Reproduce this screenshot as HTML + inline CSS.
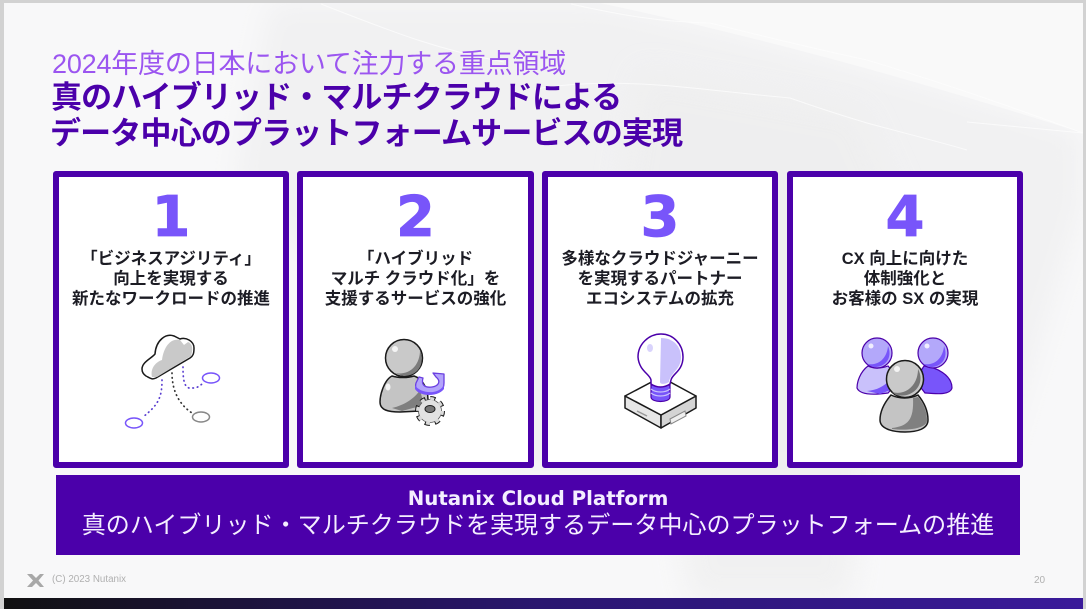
<!DOCTYPE html>
<html lang="ja">
<head>
<meta charset="utf-8">
<style>
html,body{margin:0;padding:0;background:#fff;}
#s{position:relative;width:1089px;height:611px;overflow:hidden;background:#fff;font-family:"Liberation Sans","Noto Sans CJK JP",sans-serif;}
.a{position:absolute;white-space:nowrap;}
.card{position:absolute;top:171px;height:285px;width:224px;border:6px solid #4b00aa;border-radius:3px;background:#fff;}
.num{position:absolute;left:0;right:0;top:6px;text-align:center;font:bold 56px/70px "DejaVu Sans","Liberation Sans",sans-serif;color:#7855fa;-webkit-text-stroke:.8px #7855fa;}
.txt{position:absolute;left:-6px;right:-6px;top:72px;text-align:center;font-size:16.500px;line-height:20px;font-weight:700;color:#1c1c24;font-family:"Liberation Sans","Noto Sans CJK JP",sans-serif;white-space:nowrap;}
</style>
</head>
<body>
<div id="s">
<svg class="a" style="left:0;top:0" width="1089" height="611">
<defs>
<linearGradient id="bar" x1="0" x2="1" y1="0" y2="0"><stop offset="0" stop-color="#111"/><stop offset=".5" stop-color="#2a1670"/><stop offset="1" stop-color="#3a1a9a"/></linearGradient>
<filter id="b" x="-20%" y="-20%" width="140%" height="140%"><feGaussianBlur stdDeviation="14"/></filter>
<clipPath id="pg"><rect x="4" y="3" width="1079" height="595"/></clipPath>
</defs>
<rect x="0" y="0" width="1089" height="611" fill="#fff"/>
<rect x="0" y="0" width="1086" height="609" fill="#d2d2d2"/>
<rect x="4" y="3" width="1079" height="595" fill="#f8f8f9"/>
<g clip-path="url(#pg)">
<path d="M270 3 L600 3 C750 35 900 75 1083 133 L1083 200 L1000 470 L500 470 L235 180Z" fill="#f1f1f2" filter="url(#b)"/>
<path d="M640 70 L860 110 L900 200 L850 600 L690 600 L620 200Z" fill="#eeeeee" filter="url(#b)" opacity=".7"/>
<path d="M600 3 L1083 3 L1083 133 C900 75 750 35 600 3Z" fill="#f9f9f9"/>
<path d="M321 4 C400 35 440 50 504 62 M571 4 C620 15 660 22 710 23 C770 38 820 50 867 60 C950 85 1020 110 1083 133 M535 89 C620 75 700 90 790 98 C810 105 840 115 867 123 C900 132 940 142 967 150 M967 122 C1010 126 1050 130 1083 133" stroke="#fcfcfc" stroke-width="1" fill="none" opacity=".8"/>
</g>
<rect x="4" y="598" width="1079" height="11" fill="url(#bar)"/>
<path d="M27 574 L32 574 L36 578 L40 574 L44 574 L38.500 580.500 L44 587 L40 587 L36 583 L32 587 L27 587 L33 580.500Z" fill="#a8a8a8"/>
</svg>

<div class="a" style="left:52px;top:48px;font-size:27px;line-height:32px;color:#9b55f0;letter-spacing:-.2px">2024年度の日本において注力する重点領域</div>
<div class="a" style="left:51px;top:80px;font-size:31px;line-height:36px;font-weight:700;color:#4b00aa;letter-spacing:-.9px">真のハイブリッド・マルチクラウドによる</div>
<div class="a" style="left:50px;top:116px;font-size:31px;line-height:36px;font-weight:700;color:#4b00aa;letter-spacing:-.85px">データ中心のプラットフォームサービスの実現</div>

<div class="card" style="left:53px"><div class="num">1</div><div class="txt">「ビジネスアジリティ」<br>向上を実現する<br>新たなワークロードの推進</div></div>
<div class="card" style="left:297px;width:225px"><div class="num">2</div><div class="txt">「ハイブリッド<br>マルチ クラウド化」を<br>支援するサービスの強化</div></div>
<div class="card" style="left:542px"><div class="num">3</div><div class="txt">多様なクラウドジャーニー<br>を実現するパートナー<br>エコシステムの拡充</div></div>
<div class="card" style="left:787px"><div class="num">4</div><div class="txt">CX 向上に向けた<br>体制強化と<br>お客様の SX の実現</div></div>

<svg class="a" style="left:0;top:0" width="1089" height="611">
<!-- cloud icon -->
<g fill="none" stroke-linecap="round">
<path d="M162 380 C162 398 158 405 143 417" stroke="#5a3fd0" stroke-width="1.700" stroke-dasharray=".5 4"/>
<path d="M172 373 C172 392 180 405 192 413" stroke="#333" stroke-width="1.700" stroke-dasharray=".5 4"/>
<path d="M183 367 C183 380 184 390 193 388 C197 388 200 386 203 383" stroke="#5a3fd0" stroke-width="1.700" stroke-dasharray=".5 4"/>
</g>
<ellipse cx="134" cy="423" rx="8.500" ry="5" fill="#fff" stroke="#7855fa" stroke-width="1.500"/>
<ellipse cx="201" cy="417" rx="8.500" ry="5" fill="#fff" stroke="#888" stroke-width="1.500"/>
<ellipse cx="211" cy="378" rx="8.500" ry="5" fill="#fff" stroke="#7855fa" stroke-width="1.500"/>
<path d="M142 369 C142 362 152 358 155 354 C156 340 166 333 174 336 L180 339 C186 337 194 341 194 348 C194 354 193 356 190 358 L156 378 C152 380 150 378 146 376 C143 374 142 372 142 369Z" fill="#fff" stroke="#1a1a1a" stroke-width="1.500"/>
<path d="M152 377 C150 368 156 362 162 360 C164 345 172 338 180 340 L184 345 L188 342 C193 344 193 350 191 356 L157 377Z" fill="#c9c9c9"/>

<!-- person gear icon -->
<circle cx="404" cy="358" r="18.500" fill="#c9c9c9" stroke="#1a1a1a" stroke-width="1.500"/>
<path d="M394 373 C410 376 420 365 420 350 C424 360 422 375 404 376Z" fill="#7c7c7c"/>
<circle cx="395" cy="349" r="3" fill="#fff" opacity=".8"/>
<path d="M392 376 C384 380 380 395 380 402 C380 410 388 412 400 412 L420 411 L428 400 C428 385 420 378 414 376 C408 378 398 378 392 376Z" fill="#c4c4c4" stroke="#1a1a1a" stroke-width="1.500"/>
<path d="M392 408 C405 405 415 398 420 390 L424 405 L402 411Z" fill="#7f7f7f"/>
<ellipse cx="388" cy="387" rx="2.500" ry="3.500" fill="#fff" opacity=".8"/>
<path d="M416 383 C414 391 420 394 430 394 C438 394 444 391 444 383 L444 374 L433 373 L436 377 C441 381 439 386 432 387 C425 388 421 385 423 378 L419 377Z" fill="#b3a4fb" stroke="#6a3fe0" stroke-width="1.300" stroke-linejoin="round"/>
<path d="M415 385 C419 393 438 396 444 385 L444 389 C438 397 420 397 415 389Z" fill="#7855fa"/>
<circle cx="430" cy="411" r="12.500" fill="none" stroke="#1a1a1a" stroke-width="5" stroke-dasharray="5 4.800"/>
<circle cx="430" cy="411" r="11.500" fill="#e2e2e2" stroke="#555" stroke-width=".8"/>
<circle cx="430" cy="411" r="12.500" fill="none" stroke="#dadada" stroke-width="3" stroke-dasharray="4 5.800"/>
<ellipse cx="430" cy="409" rx="5" ry="3.500" fill="#777" stroke="#222"/>

<!-- bulb icon -->
<path d="M625 396 L625 408 L661 428 L661 415Z" fill="#e6e6e6" stroke="#1a1a1a" stroke-width="1.500" stroke-linejoin="round"/>
<path d="M661 428 L696 408 L696 396 L661 415Z" fill="#d4d4d4" stroke="#1a1a1a" stroke-width="1.500" stroke-linejoin="round"/>
<path d="M625 396 L661 377 L696 396 L661 415Z" fill="#fff" stroke="#1a1a1a" stroke-width="1.500" stroke-linejoin="round"/>
<path d="M670 419 L685 411 L686 416 L671 424Z" fill="#efefef" stroke="#888"/>
<path d="M637 411 L647 416" stroke="#999" stroke-width="1.500"/>
<path d="M651 385 L651 397 C651 403 670 403 670 397 L670 385Z" fill="#7855fa" stroke="#4b00aa" stroke-width="1.200"/>
<path d="M651 389 C656 393 665 393 670 389 M651 393 C656 397 665 397 670 393" stroke="#c9c1fb" stroke-width="1.200" fill="none"/>
<path d="M651 384 L651 380 C650 374 639 371 638 357 C638 344 649 334 661 334 C673 334 683 344 683 357 C683 371 672 374 671 380 L670 384 C664 388 657 388 651 384Z" fill="#fff" stroke="#4b00aa" stroke-width="1.500"/>
<path d="M661 338 C673 338 681 346 681 357 C681 370 670 373 669 382 C664 385 660 384 660 382Z" fill="#c9c1fb"/>
<ellipse cx="650" cy="348" rx="3" ry="4" fill="#c9c1fb" opacity=".7"/>

<!-- people icon -->
<path d="M868 366 C860 372 857 382 857 388 C860 395 874 395 888 393 L900 380 L888 366 C880 369 874 369 868 366Z" fill="#c9c1fb" stroke="#4b00aa" stroke-width="1.200"/>
<path d="M867 391 C878 390 884 386 890 380 L896 388 L880 394Z" fill="#7855fa"/>
<circle cx="877" cy="353" r="15" fill="#b3a8fa" stroke="#4b00aa" stroke-width="1.200"/>
<path d="M867 364 C879 366 887 358 888 346 C893 358 885 368 873 367Z" fill="#7855fa"/>
<circle cx="871" cy="346" r="2.500" fill="#fff" opacity=".8"/>
<path d="M924 366 C936 367 952 375 952 388 C950 395 938 394 925 393 L915 380Z" fill="#7855fa" stroke="#4b00aa" stroke-width="1.200"/>
<circle cx="933" cy="353" r="15" fill="#b3a8fa" stroke="#4b00aa" stroke-width="1.200"/>
<path d="M923 364 C935 366 943 358 944 346 C949 358 941 368 929 367Z" fill="#7855fa"/>
<circle cx="927" cy="346" r="2.500" fill="#fff" opacity=".8"/>
<path d="M891 395 C885 402 880 410 880 420 C880 429 893 432 905 432 C917 432 928 429 928 420 C928 410 923 401 918 395 C910 399 899 399 891 395Z" fill="#c4c4c4" stroke="#1a1a1a" stroke-width="1.500"/>
<path d="M892 428 C908 426 914 420 913 398 L918 397 C924 404 927 412 927 421 C926 428 910 431 892 429Z" fill="#808080"/>
<circle cx="905" cy="379" r="18.500" fill="#c9c9c9" stroke="#1a1a1a" stroke-width="1.500"/>
<path d="M892 392 C906 396 918 385 918 369 C926 383 914 399 896 395Z" fill="#777"/>
<circle cx="897" cy="369" r="3" fill="#fff" opacity=".8"/>
</svg>

<div class="a" style="left:56px;top:475px;width:964px;height:80px;background:#4b00aa;color:#fff;text-align:center">
<div style="position:absolute;left:0;right:0;top:12px;font:bold 19.800px/24px 'DejaVu Sans','Liberation Sans',sans-serif;color:#f4eeff;">Nutanix Cloud Platform</div>
<div style="position:absolute;left:0;right:0;top:35px;font-size:24.050px;line-height:32px;color:#f4eeff;">真のハイブリッド・マルチクラウドを実現するデータ中心のプラットフォームの推進</div>
</div>

<div class="a" style="left:52px;top:574px;font-size:9.800px;line-height:12px;color:#b0b0b0">(C) 2023 Nutanix</div>
<div class="a" style="left:1034px;top:575px;font-size:10px;line-height:12px;color:#b0b0b0">20</div>
</div>
</body>
</html>
